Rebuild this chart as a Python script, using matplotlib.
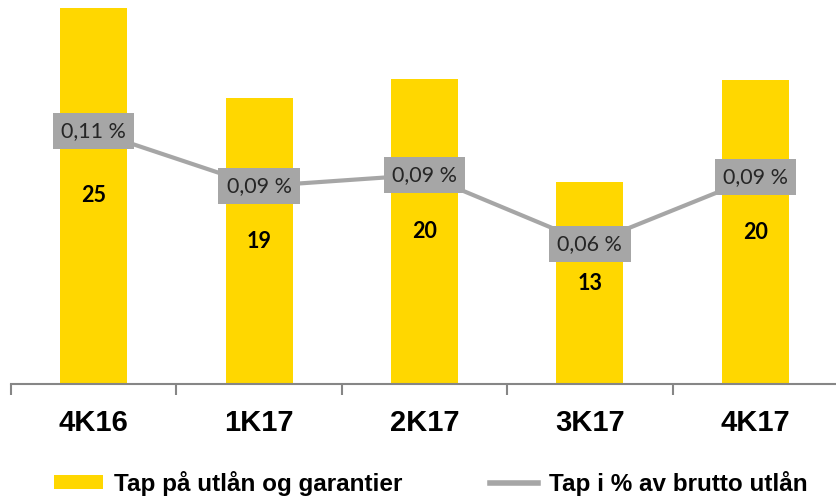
import matplotlib.pyplot as plt
from matplotlib.patches import Patch
from matplotlib.lines import Line2D

quarters = ["4K16", "1K17", "2K17", "3K17", "4K17"]
tap_mill = [25.0, 19.0, 20.3, 13.4, 20.2]
tap_pct = [0.110, 0.086, 0.091, 0.061, 0.090]

YELLOW = "#FFD700"
GREY = "#A6A6A6"

fig = plt.figure(figsize=(8.37, 4.97), dpi=100)
ax = fig.add_axes([11 / 837, 1 - 384 / 497, 827 / 837, 384 / 497])
x = list(range(len(quarters)))

ax.bar(x, tap_mill, width=0.405, color=YELLOW, zorder=1)
for xi, v in zip(x, tap_mill):
    ax.text(xi, v / 2, f"{v:.0f}", ha="center", va="center",
            fontsize=15.5, fontweight="bold", family="Lato", color="black")

ax.set_xlim(-0.5, 4.5)
ax.set_ylim(0, 25.53)
ax.set_yticks([])
for s in ["top", "right", "left"]:
    ax.spines[s].set_visible(False)
ax.spines["bottom"].set_color("#868686")
ax.spines["bottom"].set_linewidth(1.5)
ax.set_xticks([i - 0.5 for i in range(len(quarters) + 1)], minor=False)
ax.set_xticklabels([])
ax.tick_params(axis="x", which="major", length=8, width=1.5, color="#868686")
ax.set_xticks(x, minor=True)
ax.set_xticklabels(quarters, minor=True, fontsize=21, fontweight="bold",
                   family="Liberation Sans")
ax.tick_params(axis="x", which="minor", length=0, pad=18)

ax2 = ax.twinx()
ax2.set_ylim(0, 0.167)
ax2.set_yticks([])
for s in ax2.spines.values():
    s.set_visible(False)
ax2.plot(x, tap_pct, color=GREY, linewidth=3, zorder=2)
for xi, v in zip(x, tap_pct):
    ax2.text(xi, v, f"{v:.2f}".replace(".", ",") + " %", ha="center", va="center",
             fontsize=15.5, family="Lato", color="#262626", zorder=3,
             bbox=dict(boxstyle="square,pad=0.38", facecolor=GREY, edgecolor="none"))

handles = [Patch(facecolor=YELLOW, edgecolor="none"),
           Line2D([0], [0], color=GREY, linewidth=4)]
labels = ["Tap på utlån og garantier", "Tap i % av brutto utlån"]
fig.legend(handles, labels, loc="center", bbox_to_anchor=(0.515, 1 - 483 / 497),
           ncol=2, frameon=False, handlelength=2.0, handleheight=0.55,
           handletextpad=0.45, columnspacing=3.6,
           prop={"family": "Liberation Sans", "weight": "bold", "size": 17.5})

fig.savefig("out.png", dpi=100)
